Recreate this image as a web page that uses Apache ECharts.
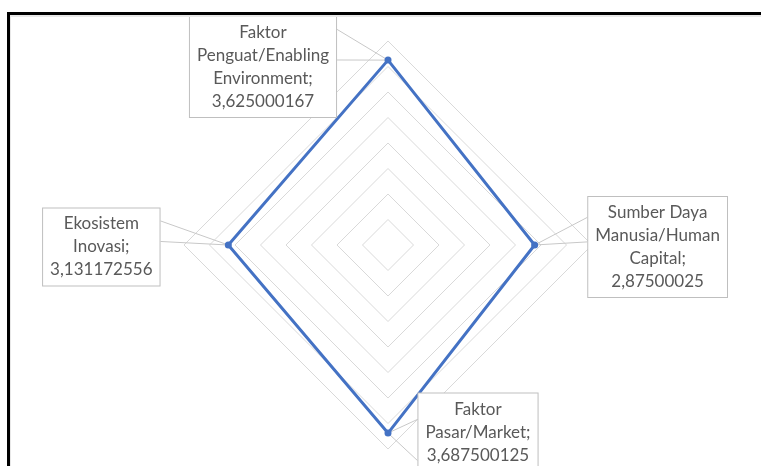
<!DOCTYPE html>
<html>
<head>
<meta charset="utf-8">
<script src="https://cdn.jsdelivr.net/npm/echarts@6/dist/echarts.min.js"></script>
<style>
    html, body {margin: 0; padding: 0; background: #fff; overflow: hidden;}
    #chart {width: 761px; height: 466px;}
    #frame {position: absolute; left: 7px; top: 12px; width: 820px; height: 520px;
            border: 3px solid #000; pointer-events: none;
            box-shadow: inset 1px 2px 0 #e8e8e8;}
</style>
</head>
<body>
<div id="chart"></div>
<div id="frame"></div>
<script>
    // urutan searah tampilan: atas, kiri, bawah, kanan
    var categories = [
        'Faktor\nPenguat/Enabling\nEnvironment',
        'Ekosistem\nInovasi',
        'Faktor\nPasar/Market',
        'Sumber Daya\nManusia/Human\nCapital'
    ];
    var values = [3.625000167, 3.131172556, 3.687500125, 2.87500025];
    var axisMax = 4;
    var splitCount = 8;

    // posisi kotak label relatif ke titik, dan celah pointer (callout)
    var labelPlace = [
        {dx: -125, dy: 7, side: 'right', wedge: [0.13, 0.43]},
        {dx: -127, dy: 2, side: 'right', wedge: [0.17, 0.43]},
        {dx: 90, dy: -1, side: 'left', wedge: [0.34, 0.86]},
        {dx: 123, dy: 2, side: 'left', wedge: [0.21, 0.45]}
    ];
    var wedges = [];

    function labelText(i) {
        return categories[i] + ';\n' + String(values[i]).replace('.', ',');
    }

    var myChart = echarts.init(document.getElementById('chart'));
    var option = {
        animation: false,
        radar: {
            center: [388, 245],
            radius: 204,
            startAngle: 90,
            splitNumber: splitCount,
            shape: 'polygon',
            indicator: categories.map(function (c) {
                return {name: c, min: 0, max: axisMax};
            }),
            axisName: {show: false},
            axisLine: {show: false},
            axisTick: {show: false},
            axisLabel: {show: false},
            splitArea: {show: false},
            splitLine: {lineStyle: {color: '#d9d9d9', width: 1}}
        },
        series: [{
            type: 'radar',
            symbol: 'circle',
            symbolSize: 7,
            lineStyle: {color: '#4472c4', width: 3},
            itemStyle: {color: '#4472c4'},
            label: {
                show: true,
                position: 'inside',
                align: 'center',
                verticalAlign: 'middle',
                fontFamily: 'Lato',
                fontSize: 17,
                lineHeight: 23,
                color: '#595959',
                backgroundColor: '#fff',
                borderColor: '#bfbfbf',
                borderWidth: 1,
                padding: [4, 7, 4, 7],
                formatter: function (p) {
                    var i = values.indexOf(p.value);
                    return i < 0 ? '' : labelText(i);
                }
            },
            labelLayout: function (p) {
                var i = -1;
                for (var k = 0; k < categories.length; k++) {
                    if (labelText(k) === p.text) i = k;
                }
                if (i < 0) return {};
                var pl = labelPlace[i];
                var vx = p.rect.x + p.rect.width / 2;
                var vy = p.rect.y + p.rect.height / 2;
                var w = p.labelRect.width, h = p.labelRect.height;
                var cx = vx + pl.dx, cy = vy + pl.dy;
                var ex = pl.side === 'right' ? cx + w / 2 : cx - w / 2;
                var top = cy - h / 2;
                wedges[i] = [
                    [ex, top + h * pl.wedge[0]],
                    [vx, vy],
                    [ex, top + h * pl.wedge[1]]
                ];
                return {x: cx, y: cy};
            },
            data: [{value: values, name: 'Nilai'}]
        }]
    };
    myChart.setOption(option);

    // garis pointer callout dari kotak label ke titik data
    myChart.setOption({
        graphic: wedges.map(function (pts) {
            return {
                type: 'polyline',
                z: 1,
                shape: {points: pts},
                style: {stroke: '#c8c8c8', lineWidth: 1, fill: null}
            };
        })
    });
</script>
</body>
</html>
